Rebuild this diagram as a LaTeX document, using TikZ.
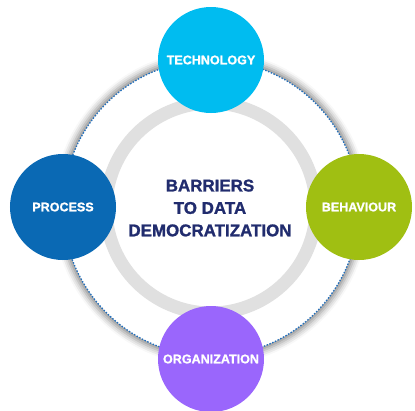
\documentclass[tikz,border=0pt]{standalone}
\usepackage{fontspec}
\setmainfont{Liberation Sans}[BoldFeatures={FakeBold=1.3}]
\usetikzlibrary{positioning, shadows.blur}

\definecolor{techblue}{HTML}{00BCF0}
\definecolor{procblue}{HTML}{0A69B4}
\definecolor{behgreen}{HTML}{A0BF12}
\definecolor{orgviolet}{HTML}{9A66FC}
\definecolor{navy}{HTML}{212C6E}
\definecolor{ringgray}{HTML}{E0E0E0}
\definecolor{dotblue}{HTML}{2470BC}

\begin{document}
\begin{tikzpicture}[
  x=1bp, y=-1bp,
  pillar/.style = {circle, minimum size=106bp, inner sep=0pt, text=white,
                   font=\fontsize{12.6}{14}\selectfont\bfseries},
  title/.style  = {align=center, text=navy, inner sep=0pt,
                   font=\fontsize{17}{22.5}\selectfont\bfseries},
]
  \useasboundingbox (0,0) rectangle (415,411);

  % ── outer orbit with its soft halo ────────────────────────────────────
  \coordinate (c) at (211,208);
  \fill[white, blur shadow={shadow xshift=0bp, shadow yshift=0bp,
        shadow blur radius=6bp, shadow opacity=45, shadow scale=1.025}]
        (c) circle[radius=148];
  \draw[dotblue, line width=1.3bp, dash pattern=on 1.5bp off 1.5bp]
        (c) circle[radius=148];

  % ── inner gray ring ───────────────────────────────────────────────────
  \draw[ringgray, line width=13bp] (c) circle[radius=105];

  % ── the four barriers ─────────────────────────────────────────────────
  \node[pillar, fill=techblue]  (tech) at (211,60)  {TECHNOLOGY};
  \node[pillar, fill=procblue]  (proc) at (63,207)  {PROCESS};
  \node[pillar, fill=behgreen]  (beh)  at (359,207) {BEHAVIOUR};
  \node[pillar, fill=orgviolet] (org)  at (211,359) {ORGANIZATION};

  % ── title ─────────────────────────────────────────────────────────────
  \node[title] (ttl) at (210,208) {BARRIERS\\TO DATA\\DEMOCRATIZATION};

\end{tikzpicture}
\end{document}
